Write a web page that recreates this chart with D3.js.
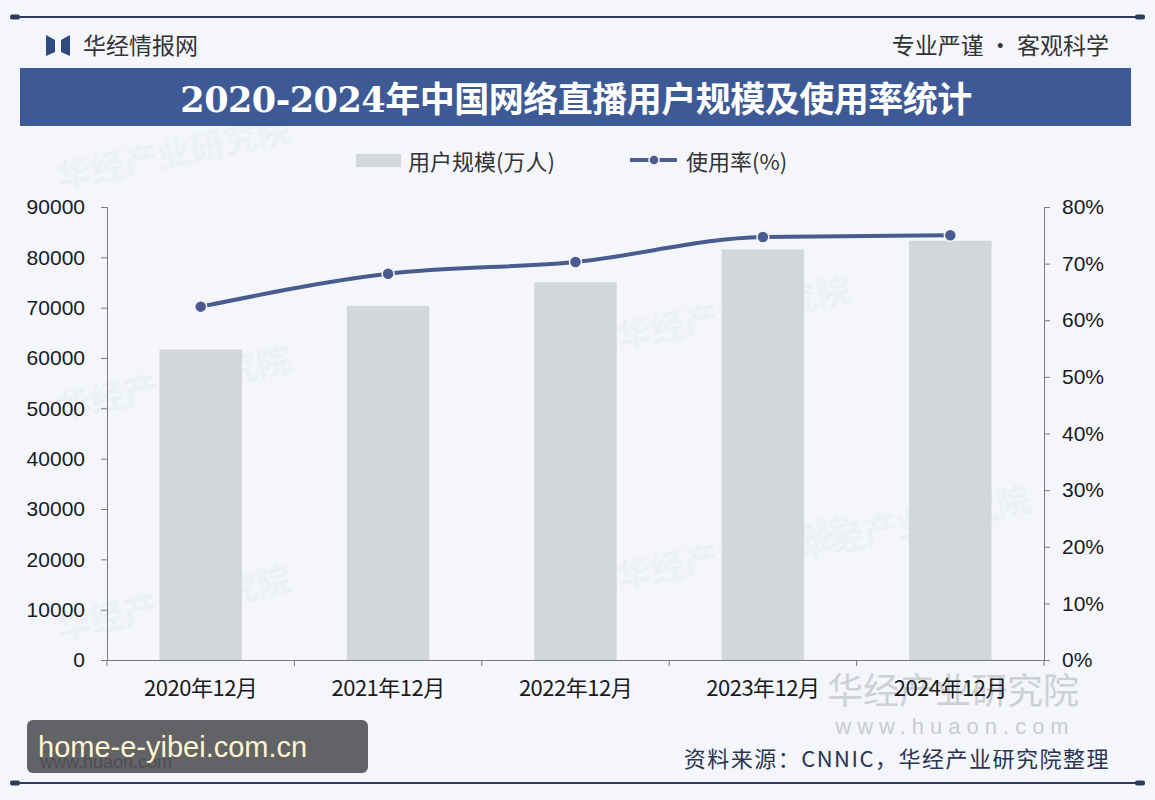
<!DOCTYPE html>
<html>
<head>
<meta charset="utf-8">
<script src="https://cdn.jsdelivr.net/npm/d3@7"></script>
<style>
  body { margin: 0; background: #f3f5fa; }
  svg { display: block; font-family: "Liberation Sans", "Noto Sans CJK SC", sans-serif; }
</style>
</head>
<body>
<div id="chart"></div>
<script>
// Data
var categories = ["2020年12月", "2021年12月", "2022年12月", "2023年12月", "2024年12月"];
var users = [61685, 70337, 75065, 81566, 83300];      // 万人
var usageRate = [62.4, 68.2, 70.3, 74.7, 75.0];       // %
var leftTicks = [0, 10000, 20000, 30000, 40000, 50000, 60000, 70000, 80000, 90000];
var rightTicks = [0, 10, 20, 30, 40, 50, 60, 70, 80];

// Setup
var W = 1155, H = 800;
var margin = { top: 207, right: 111, bottom: 140, left: 107 };
var plotW = W - margin.left - margin.right,
    plotH = H - margin.top - margin.bottom;

var navy = "#2b3c5e";
var banner = "#3d5a96";
var barColor = "#d3d6db";
var lineColor = "#4a5b90";
var cjk = "'Noto Sans CJK SC', sans-serif";

var svg = d3.select("#chart").append("svg")
    .attr("width", W)
    .attr("height", H);

svg.append("rect").attr("width", W).attr("height", H).attr("fill", "#f4f6fb");

// faint watermarks
var wm = svg.append("g").attr("font-family", cjk).attr("fill", "#edf0f7").attr("font-weight", "bold");
[[60, 190], [60, 420], [620, 350], [620, 590], [60, 640], [800, 560]].forEach(p => {
    wm.append("text").attr("x", p[0]).attr("y", p[1]).attr("font-size", 34)
        .attr("transform", `rotate(-12, ${p[0]}, ${p[1]})`).text("华经产业研究院");
});

// header lines
function rule(y) {
    svg.append("line").attr("x1", 14).attr("x2", 1141).attr("y1", y).attr("y2", y)
        .attr("stroke", navy).attr("stroke-width", 2);
    svg.append("rect").attr("x", 10).attr("y", y - 2.5).attr("width", 10).attr("height", 5).attr("rx", 2).attr("fill", navy);
    svg.append("rect").attr("x", 1135).attr("y", y - 2.5).attr("width", 10).attr("height", 5).attr("rx", 2).attr("fill", navy);
}
rule(17);
rule(783);

// logo
svg.append("path").attr("d", "M46,35 L55,40 L55,52 L46,56 Z").attr("fill", "#2f4a80");
svg.append("path").attr("d", "M70,35 L61,40 L61,52 L70,56 Z").attr("fill", "#2f4a80");
svg.append("text").attr("x", 83).attr("y", 54).attr("font-family", cjk).attr("font-size", 23)
    .attr("fill", "#333").text("华经情报网");
svg.append("text").attr("x", 1109).attr("y", 54).attr("text-anchor", "end").attr("font-family", cjk)
    .attr("font-size", 23).attr("fill", "#333").text("专业严谨 • 客观科学");

// title banner
svg.append("rect").attr("x", 20).attr("y", 68).attr("width", 1111).attr("height", 58).attr("fill", banner);
svg.append("text").attr("x", 576).attr("y", 112).attr("text-anchor", "middle")
    .attr("font-family", "'DejaVu Serif', 'Noto Sans CJK SC', serif").attr("font-weight", "bold")
    .attr("font-size", 35).attr("fill", "#fff").attr("letter-spacing", -0.5)
    .text("2020-2024年中国网络直播用户规模及使用率统计");

// legend
svg.append("rect").attr("x", 356).attr("y", 154).attr("width", 45).attr("height", 13).attr("fill", barColor);
svg.append("text").attr("x", 408).attr("y", 170).attr("font-family", cjk).attr("font-size", 22)
    .attr("fill", "#333").text("用户规模(万人)");
svg.append("line").attr("x1", 630).attr("x2", 677).attr("y1", 160).attr("y2", 160)
    .attr("stroke", lineColor).attr("stroke-width", 4);
svg.append("circle").attr("cx", 654).attr("cy", 160).attr("r", 5).attr("fill", lineColor)
    .attr("stroke", "#f4f6fb").attr("stroke-width", 1.5);
svg.append("text").attr("x", 686).attr("y", 170).attr("font-family", cjk).attr("font-size", 22)
    .attr("fill", "#333").text("使用率(%)");

// scales
var g = svg.append("g").attr("transform", `translate(${margin.left},${margin.top})`);
var x = d3.scaleBand().domain(categories).range([0, plotW]).paddingInner(0.56).paddingOuter(0.28);
var xOuter = d3.scaleBand().domain(categories).range([0, plotW]);
var yL = d3.scaleLinear().domain([0, 90000]).range([plotH, 0]);
var yR = d3.scaleLinear().domain([0, 80]).range([plotH, 0]);

// bars
g.selectAll(".bar").data(users).enter().append("rect")
    .attr("class", "bar")
    .attr("x", (d, i) => x(categories[i]))
    .attr("width", x.bandwidth())
    .attr("y", d => yL(d))
    .attr("height", d => plotH - yL(d))
    .attr("fill", barColor);

// axes
var axisColor = "#7a7a7a";
var leftAxis = g.append("g").call(d3.axisLeft(yL).tickValues(leftTicks).tickSize(6).tickPadding(16).tickFormat(d3.format("d")));
var rightAxis = g.append("g").attr("transform", `translate(${plotW},0)`)
    .call(d3.axisRight(yR).tickValues(rightTicks).tickSize(6).tickPadding(12).tickFormat(d => d + "%"));
var bottomAxis = g.append("g").attr("transform", `translate(0,${plotH})`)
    .call(d3.axisBottom(xOuter).tickSize(0).tickPadding(20));

[leftAxis, rightAxis].forEach(a => {
    a.select(".domain").attr("stroke", axisColor);
    a.selectAll(".tick line").attr("stroke", axisColor);
    a.selectAll("text").attr("font-size", 21).attr("fill", "#1a1a1a")
        .attr("font-family", "'Liberation Sans', sans-serif");
});
bottomAxis.select(".domain").attr("stroke", axisColor);
bottomAxis.selectAll("text").attr("font-size", 22).attr("fill", "#1a1a1a")
    .attr("font-family", cjk).attr("letter-spacing", -0.5);
// category separators
g.selectAll(".sep").data(categories.concat(["end"])).enter().append("line")
    .attr("x1", (d, i) => i * xOuter.step()).attr("x2", (d, i) => i * xOuter.step())
    .attr("y1", plotH).attr("y2", plotH + 6).attr("stroke", axisColor);

// line
var cx = (d, i) => x(categories[i]) + x.bandwidth() / 2;
var line = d3.line().x(cx).y(d => yR(d)).curve(d3.curveMonotoneX);
g.append("path").attr("d", line(usageRate)).attr("fill", "none")
    .attr("stroke", lineColor).attr("stroke-width", 4);
g.selectAll(".pt").data(usageRate).enter().append("circle")
    .attr("cx", cx).attr("cy", d => yR(d)).attr("r", 6)
    .attr("fill", lineColor).attr("stroke", "#f4f6fb").attr("stroke-width", 1.5);

// brand watermark bottom right (drawn under the axis labels)
svg.insert("text", "g").attr("x", 953).attr("y", 704).attr("text-anchor", "middle").attr("font-family", cjk)
    .attr("font-size", 36).attr("fill", "#cdd0d6").text("华经产业研究院");
svg.insert("text", "g").attr("x", 955).attr("y", 734).attr("text-anchor", "middle")
    .attr("font-family", "'Liberation Sans', sans-serif").attr("font-size", 22).attr("letter-spacing", 6)
    .attr("fill", "#c8cbd1").text("www.huaon.com");

// source
svg.append("text").attr("x", 1110).attr("y", 767).attr("text-anchor", "end").attr("font-family", cjk)
    .attr("font-size", 22).attr("letter-spacing", 1.5).attr("fill", "#2a3550").text("资料来源：CNNIC，华经产业研究院整理");

// overlay watermark box
svg.append("text").attr("x", 40).attr("y", 768).attr("font-family", "'Liberation Sans', sans-serif")
    .attr("font-size", 18).attr("fill", "#444").text("www.huaon.com");
svg.append("rect").attr("x", 27).attr("y", 720).attr("width", 341).attr("height", 53).attr("rx", 6)
    .attr("fill", "#4d4f52").attr("opacity", 0.88);
svg.append("text").attr("x", 38).attr("y", 757).attr("font-family", "'Liberation Sans', sans-serif")
    .attr("font-size", 29).attr("fill", "#fff6cf").text("home-e-yibei.com.cn");
</script>
</body>
</html>
